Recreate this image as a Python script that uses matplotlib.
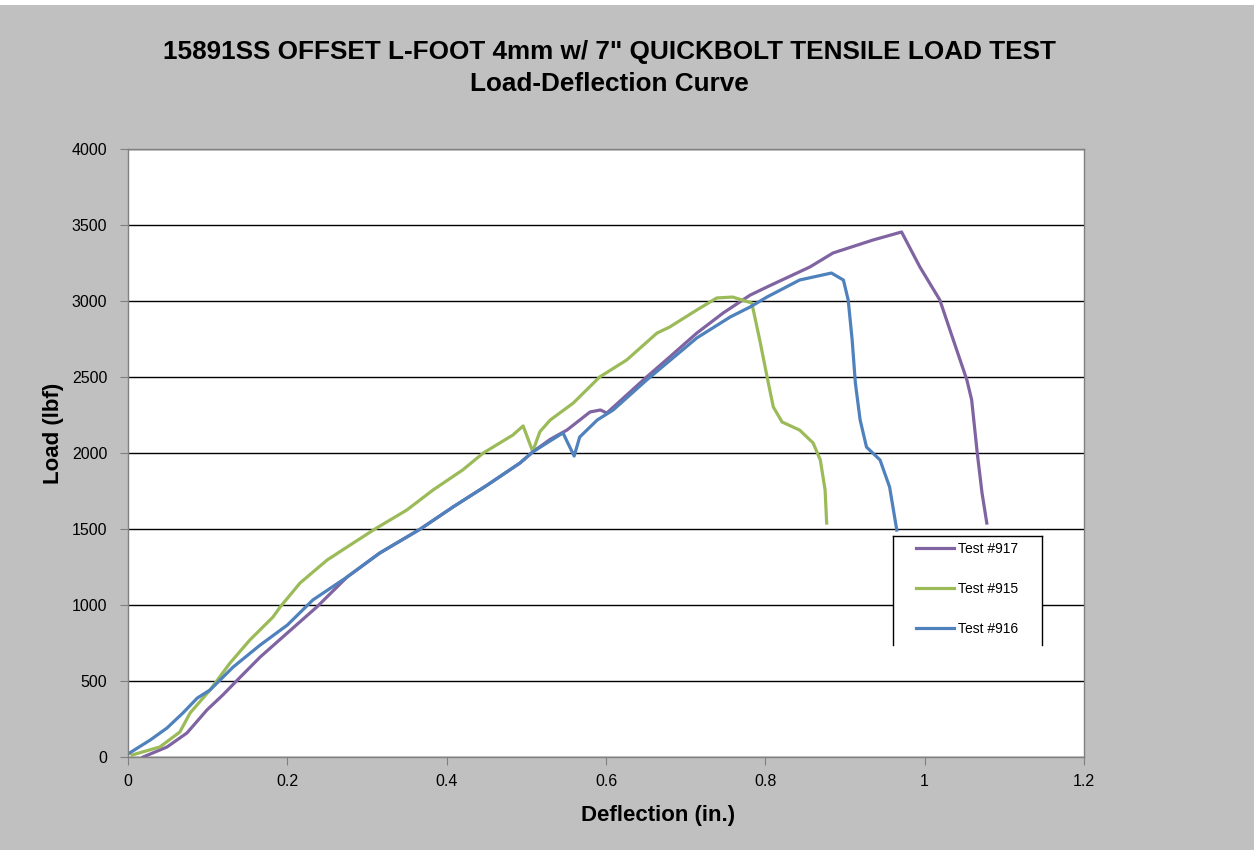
import matplotlib.pyplot as plt
from matplotlib.patches import Rectangle
from matplotlib.lines import Line2D

# Test #917 (purple)
x_917 = [0.019, 0.049, 0.074, 0.099, 0.119, 0.141, 0.166, 0.200, 0.237, 0.275, 0.316, 0.367,
         0.408, 0.451, 0.492, 0.508, 0.530, 0.551, 0.580, 0.593, 0.601, 0.651, 0.680, 0.714,
         0.747, 0.781, 0.802, 0.856, 0.885, 0.935, 0.971, 0.994, 1.019, 1.036, 1.053, 1.059,
         1.066, 1.072, 1.078]
y_917 = [0, 66, 158, 309, 408, 526, 658, 816, 987, 1184, 1342, 1500,
         1645, 1789, 1934, 2007, 2090, 2151, 2270, 2283, 2263, 2500, 2632, 2789,
         2921, 3039, 3092, 3224, 3316, 3401, 3454, 3224, 3007, 2743, 2480, 2349,
         2000, 1737, 1539]

# Test #915 (green)
x_915 = [0.005, 0.040, 0.065, 0.078, 0.103, 0.128, 0.153, 0.182, 0.191, 0.216, 0.250, 0.279,
         0.310, 0.350, 0.383, 0.420, 0.446, 0.483, 0.496, 0.508, 0.517, 0.530, 0.559, 0.592,
         0.626, 0.664, 0.680, 0.714, 0.739, 0.759, 0.783, 0.793, 0.803, 0.810, 0.821, 0.843,
         0.860, 0.869, 0.875, 0.877]
y_915 = [13, 66, 164, 290, 441, 618, 770, 921, 987, 1145, 1296, 1395,
         1500, 1625, 1757, 1888, 2000, 2118, 2178, 2010, 2140, 2217, 2329, 2500,
         2612, 2789, 2829, 2941, 3020, 3026, 2987, 2743, 2480, 2303, 2204, 2151,
         2066, 1954, 1757, 1539]

# Test #916 (blue)
x_916 = [0.0, 0.028, 0.049, 0.069, 0.087, 0.103, 0.132, 0.166, 0.200, 0.232, 0.275, 0.316,
         0.367, 0.408, 0.451, 0.492, 0.508, 0.530, 0.546, 0.560, 0.567, 0.589, 0.609, 0.651,
         0.714, 0.756, 0.781, 0.802, 0.843, 0.883, 0.898, 0.904, 0.909, 0.913, 0.919, 0.927,
         0.944, 0.956, 0.965]
y_916 = [20, 112, 191, 290, 388, 441, 592, 737, 868, 1033, 1184, 1342,
         1500, 1645, 1789, 1934, 2007, 2080, 2132, 1980, 2105, 2217, 2283, 2480,
         2757, 2895, 2961, 3026, 3138, 3184, 3138, 3007, 2743, 2461, 2217, 2039,
         1954, 1776, 1493]

x_ticks = [0, 0.2, 0.4, 0.6, 0.8, 1.0, 1.2]
x_tick_labels = ['0', '0.2', '0.4', '0.6', '0.8', '1', '1.2']
y_ticks = [0, 500, 1000, 1500, 2000, 2500, 3000, 3500, 4000]

plt.rcParams['font.family'] = ['Liberation Sans', 'DejaVu Sans']

W, H = 1260, 850
fig = plt.figure(figsize=(12.6, 8.5), dpi=100, facecolor='white')
# grey chart area, leaving a thin white strip on top and right
fig.patches.append(Rectangle((0, 0), 1254 / W, 845 / H, transform=fig.transFigure,
                             facecolor='#c0c0c0', edgecolor='none', zorder=-5))

ax = fig.add_axes([128 / W, 1 - 757 / H, (1084 - 128) / W, (757 - 149) / H])
ax.set_facecolor('white')

ax.plot(x_917, y_917, color='#8064A2', lw=2.3, label='Test #917')
ax.plot(x_915, y_915, color='#9BBB59', lw=2.3, label='Test #915')
ax.plot(x_916, y_916, color='#4F81BD', lw=2.3, label='Test #916')

ax.set_xlim(0, 1.2)
ax.set_ylim(0, 4000)
ax.set_xticks(x_ticks)
ax.set_xticklabels(x_tick_labels)
ax.set_yticks(y_ticks)
ax.yaxis.grid(True, color='black', lw=1)
ax.set_axisbelow(True)
ax.tick_params(direction='out', length=6, color='#808080', labelsize=11.5, pad=6)
ax.tick_params(axis='y', pad=9)
for s in ax.spines.values():
    s.set_color('#808080')
    s.set_linewidth(1)

fig.text(658 / W, 1 - 816 / H, 'Deflection (in.)', ha='center', va='center',
         fontsize=16, fontweight='bold')
fig.text(53 / W, 1 - 433 / H, 'Load (lbf)', ha='center', va='center', rotation=90,
         fontsize=16, fontweight='bold')

fig.text(0.484, 1 - 52 / H, '15891SS OFFSET L-FOOT 4mm w/ 7" QUICKBOLT TENSILE LOAD TEST',
         ha='center', va='center', fontsize=18.8, fontweight='bold')
fig.text(0.484, 1 - 84 / H, 'Load-Deflection Curve',
         ha='center', va='center', fontsize=18.8, fontweight='bold')

# legend box (its bottom edge is cut off in the original)
ax.add_patch(Rectangle((893 / W, 1 - 645 / H), (1042 - 893) / W, (645 - 536) / H,
                       transform=fig.transFigure, facecolor='white', edgecolor='none',
                       zorder=3, clip_on=False))
for xs, ys in [([893, 893], [645, 536]), ([893, 1042], [536, 536]), ([1042, 1042], [536, 645])]:
    ax.add_line(Line2D([v / W for v in xs], [1 - v / H for v in ys],
                       transform=fig.transFigure, color='black', lw=1, zorder=4, clip_on=False))

leg = ax.legend(loc='upper left', bbox_to_anchor=(916 / W, 1 - 542 / H),
                bbox_transform=fig.transFigure, borderaxespad=0, borderpad=0, fontsize=10,
                frameon=False, labelspacing=1.88, handlelength=2.73, handletextpad=0.3)
leg.set_zorder(5)

fig.savefig('out.png', dpi=100, facecolor=fig.get_facecolor())
